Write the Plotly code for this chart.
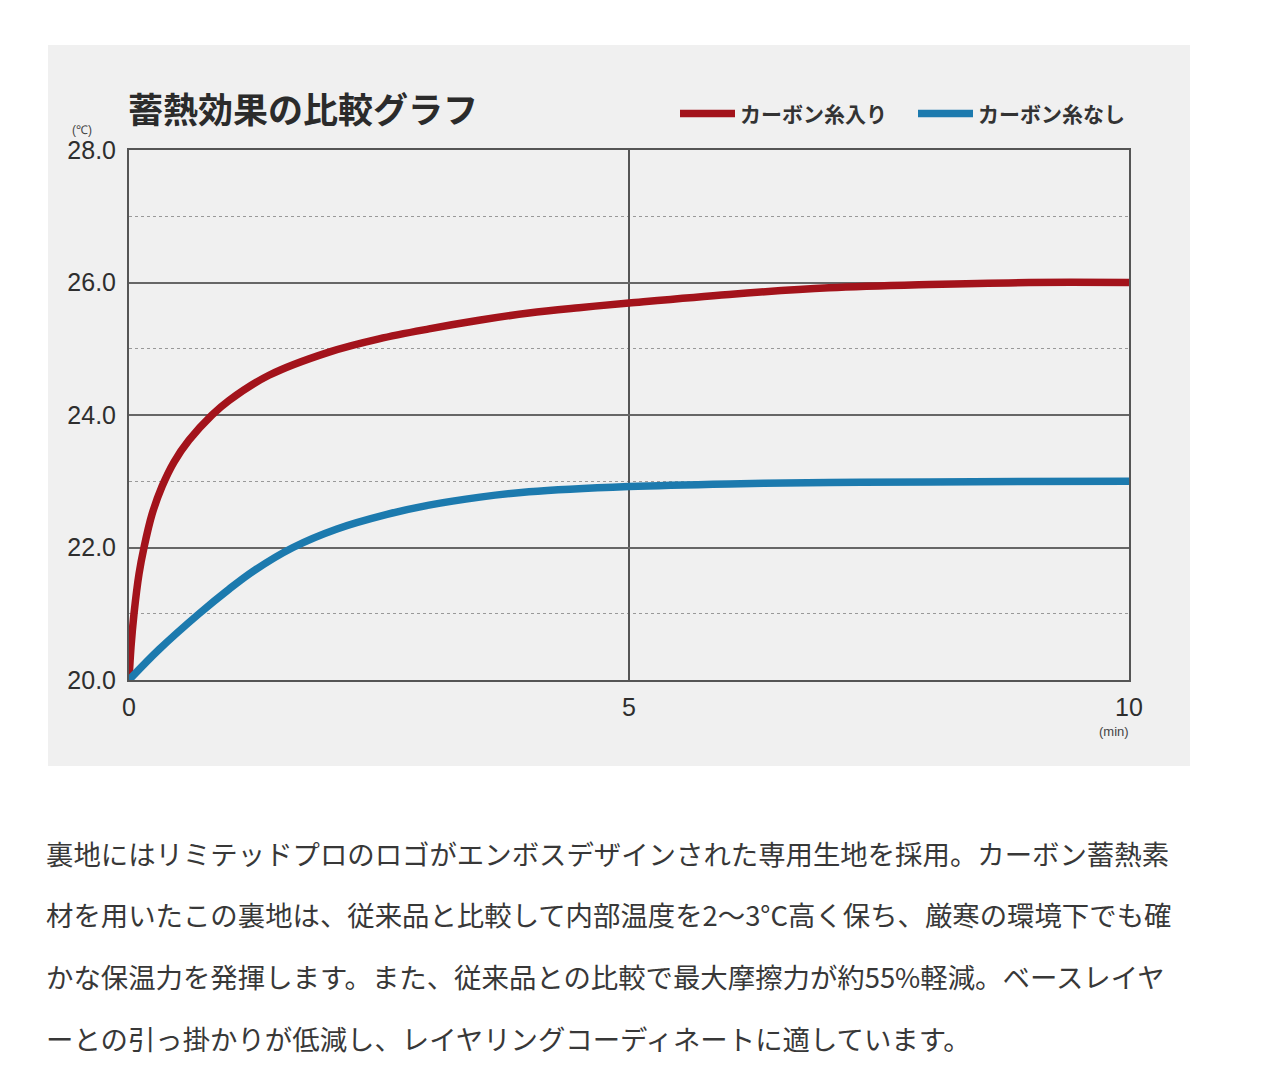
import plotly.graph_objects as go

# 経過時間 (min) と温度 (℃)
TIME_WITH = [0, 0.02, 0.05, 0.1, 0.15, 0.23, 0.33, 0.45, 0.6, 0.83, 1.0, 1.4, 2.0, 2.5,
             3.0, 3.5, 4.0, 4.5, 5.0, 6.0, 7.0, 8.0, 9.0, 10.0]
TEMP_WITH = [20.0, 20.5, 21.0, 21.6, 22.0, 22.5, 22.92, 23.29, 23.62, 24.0, 24.22, 24.6, 24.95, 25.15,
             25.3, 25.43, 25.54, 25.62, 25.69, 25.82, 25.92, 25.97, 26.0, 26.0]

TIME_WITHOUT = [0, 0.3, 0.7, 1.0, 1.24, 1.64, 2.08, 2.58, 3.0, 3.51, 4.0, 5.0, 6.0, 7.0, 8.0, 10.0]
TEMP_WITHOUT = [20.0, 20.46, 21.0, 21.37, 21.64, 22.0, 22.28, 22.5, 22.64, 22.76, 22.84, 22.92,
                22.96, 22.98, 22.99, 23.0]

SERIES_NAMES = ["カーボン糸入り", "カーボン糸なし"]
X_TICKS = [0, 5, 10]
Y_TICKS = [20, 22, 24, 26, 28]

TITLE = "蓄熱効果の比較グラフ"
BODY_LINES = [
    "裏地にはリミテッドプロのロゴがエンボスデザインされた専用生地を採用。カーボン蓄熱素",
    "材を用いたこの裏地は、従来品と比較して内部温度を2～3°C高く保ち、厳寒の環境下でも確",
    "かな保温力を発揮します。また、従来品との比較で最大摩擦力が約55%軽減。ベースレイヤ",
    "ーとの引っ掛かりが低減し、レイヤリングコーディネートに適しています。",
]

RED = "#a3131b"
BLUE = "#1c7aae"
JP_FONT = "Noto Sans CJK JP"
NUM_FONT = "Liberation Sans"

fig = go.Figure()
fig.add_trace(go.Scatter(x=TIME_WITH, y=TEMP_WITH, name=SERIES_NAMES[0], mode="lines",
                         line=dict(color=RED, width=7.5, shape="spline", smoothing=1.0)))
fig.add_trace(go.Scatter(x=TIME_WITHOUT, y=TEMP_WITHOUT, name=SERIES_NAMES[1], mode="lines",
                         line=dict(color=BLUE, width=7.5, shape="spline", smoothing=1.0)))

# 背景のグレーのパネル
fig.add_shape(type="rect", xref="paper", yref="paper", x0=-0.081, x1=1.061, y0=-0.1623, y1=1.198,
              fillcolor="#f0f0f0", line=dict(width=0), layer="below")

axis_line = dict(showline=True, mirror=True, linecolor="#555555", linewidth=2, zeroline=False)
tick_font = dict(family=NUM_FONT, size=25, color="#2e2e2e")
fig.update_xaxes(range=[0, 10], tickvals=X_TICKS, showgrid=True, gridcolor="#555555", gridwidth=1.5,
                 tickfont=tick_font, ticks="", ticklabelstandoff=4, **axis_line)
fig.update_yaxes(range=[20, 28], tickvals=Y_TICKS, tickformat=".1f", showgrid=True,
                 gridcolor="#666666", gridwidth=1.6,
                 minor=dict(dtick=1, showgrid=True, gridcolor="#999999", griddash="dot", gridwidth=1.2),
                 tickfont=tick_font, ticks="", ticklabelstandoff=6, **axis_line)

annotations = [
    dict(text=TITLE, x=-0.003, y=1.081, xanchor="left", yanchor="middle",
         font=dict(family=JP_FONT, size=35, color="#2b2b2b", weight="bold")),
    dict(text="(℃)", x=-0.047, y=1.038, xanchor="center", yanchor="middle",
         font=dict(family=NUM_FONT, size=12, color="#444444")),
    dict(text="(min)", x=0.985, y=-0.098, xanchor="center", yanchor="middle",
         font=dict(family=NUM_FONT, size=13, color="#444444")),
]
row_y = [-0.326, -0.441, -0.558, -0.675]
for text, y in zip(BODY_LINES, row_y):
    annotations.append(dict(text=text, x=-0.085, y=y, xanchor="left", yanchor="middle",
                            font=dict(family=JP_FONT, size=27.4, color="#383838")))
for a in annotations:
    a.update(xref="paper", yref="paper", showarrow=False)

fig.update_layout(
    width=1264,
    height=1072,
    margin=dict(l=121, r=143, t=142, b=400),
    paper_bgcolor="white",
    plot_bgcolor="white",
    annotations=annotations,
    showlegend=True,
    legend=dict(orientation="h", x=1.022, xanchor="right", y=1.068, yanchor="middle",
                font=dict(family=JP_FONT, size=21, color="#333333", weight="bold"),
                itemwidth=55, entrywidth=168, bgcolor="rgba(0,0,0,0)"),
)

fig.write_html("out.html")
